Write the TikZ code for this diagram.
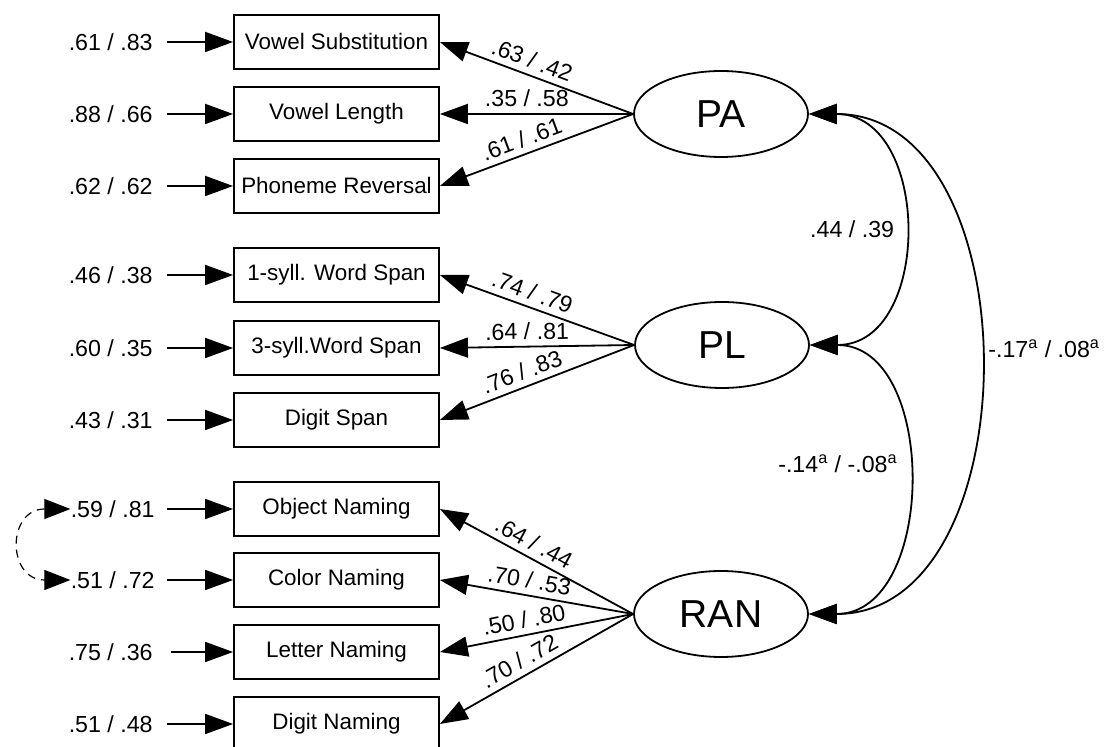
\documentclass[tikz,border=0pt]{standalone}
\usepackage{fontspec}
\setmainfont{Liberation Sans}
\usepackage{tikz}
\usetikzlibrary{arrows.meta,shapes.geometric,positioning}
\tikzstyle{loading} = [line width=0.9pt,-{Triangle[length=14pt,width=10pt]}]
\tikzstyle{covar} = [line width=0.9pt,{Triangle[length=14pt,width=10pt]}-{Triangle[length=14pt,width=10pt]}]

\begin{document}
\begin{tikzpicture}[x=0.5pt, y=-0.5pt,
    indicator/.style={rectangle, draw, line width=0.9pt, minimum width=102.5pt, minimum height=27pt, inner sep=0pt, font=\fontsize{11.2}{13}\selectfont},
    latent/.style={ellipse, draw, line width=0.9pt, minimum width=87pt, minimum height=43pt, inner sep=0pt, font=\fontsize{19.5}{22}\selectfont},
    resid/.style={anchor=east, inner sep=0pt, font=\fontsize{11.6}{13}\selectfont},
    weight/.style={sloped, above, pos=0.55, inner sep=3pt, font=\fontsize{11.6}{13}\selectfont},
    covlabel/.style={font=\fontsize{11.6}{13}\selectfont}]
\useasboundingbox (0,0) rectangle (1109,747);

% Latent factors
\node[latent] (pa) at (721,114) {PA};
\node[latent] (pl) at (722,345) {PL};
\node[latent] (ran) at (721,614) {RAN};

% Indicators
\node[indicator] (vsub) at (336.5,42) {Vowel Substitution};
\node[indicator] (vlen) at (336.5,114) {Vowel Length};
\node[indicator] (phrev) at (336.5,186) {Phoneme Reversal};
\node[indicator] (wspan1) at (336.5,275) {1-syll. Word Span};
\node[indicator] (wspan3) at (336.5,348) {3-syll.Word Span};
\node[indicator] (dspan) at (336.5,420) {Digit Span};
\node[indicator] (objn) at (336.5,509) {Object Naming};
\node[indicator] (coln) at (336.5,580) {Color Naming};
\node[indicator] (letn) at (336.5,652) {Letter Naming};
\node[indicator] (dign) at (336.5,724) {Digit Naming};

% Residuals
\node[resid] (e1) at (153,42) {.61 / .83};
\node[resid] (e2) at (153,114) {.88 / .66};
\node[resid] (e3) at (153,186) {.62 / .62};
\node[resid] (e4) at (153,275) {.46 / .38};
\node[resid] (e5) at (153,348) {.60 / .35};
\node[resid] (e6) at (153,420) {.43 / .31};
\node[resid] (e7) at (155,509) {.59 / .81};
\node[resid] (e8) at (155,580) {.51 / .72};
\node[resid] (e9) at (153,652) {.75 / .36};
\node[resid] (e10) at (153,724) {.51 / .48};

% Residual arrows
\draw[loading, shorten <=7pt] (e1) -- (vsub);
\draw[loading, shorten <=7pt] (e2) -- (vlen);
\draw[loading, shorten <=7pt] (e3) -- (phrev);
\draw[loading, shorten <=7pt] (e4) -- (wspan1);
\draw[loading, shorten <=7pt] (e5) -- (wspan3);
\draw[loading, shorten <=7pt] (e6) -- (dspan);
\draw[loading, shorten <=6pt] (e7) -- (objn);
\draw[loading, shorten <=6pt] (e8) -- (coln);
\draw[loading, shorten <=9pt] (e9) -- (letn);
\draw[loading, shorten <=7pt] (e10) -- (dign);

% Correlated residuals
\draw[dashed, dash pattern=on 4pt off 3pt, line width=0.6pt, {Triangle[length=13pt,width=10pt]}-{Triangle[length=13pt,width=10pt]}] (e7.west) to[out=180, in=180, looseness=2.3] (e8.west);

% Loadings
\draw[loading] (pa.west) -- node[weight] {.63 / .42} (vsub.east);
\draw[loading] (pa.west) -- node[weight] {.35 / .58} (vlen.east);
\draw[loading] (pa.west) -- node[weight] {.61 / .61} (phrev.east);

\draw[loading] (pl.west) -- node[weight] {.74 / .79} (wspan1.east);
\draw[loading] (pl.west) -- node[weight] {.64 / .81} (wspan3.east);
\draw[loading] (pl.west) -- node[weight] {.76 / .83} (dspan.east);

\draw[loading] (ran.west) -- node[weight] {.64 / .44} (objn.east);
\draw[loading] (ran.west) -- node[weight] {.70 / .53} (coln.east);
\draw[loading] (ran.west) -- node[weight] {.50 / .80} (letn.east);
\draw[loading] (ran.west) -- node[weight] {.70 / .72} (dign.east);

% Factor correlations
\draw[covar] (pa.east) to[out=0, in=0, looseness=1.36] node[covlabel, pos=0.5, left] {.44 / .39} (pl.east);
\draw[covar] (pl.east) to[out=0, in=0, looseness=1.22] node[covlabel, pos=0.46, left] {-.14\textsuperscript{a} / -.08\textsuperscript{a}} (ran.east);
\draw[covar] (pa.east) to[out=0, in=0, looseness=1.15] node[covlabel, pos=0.48, right, xshift=2pt] {-.17\textsuperscript{a} / .08\textsuperscript{a}} (ran.east);
\end{tikzpicture}
\end{document}
